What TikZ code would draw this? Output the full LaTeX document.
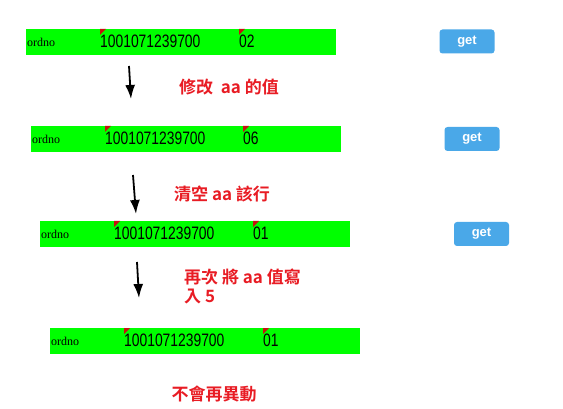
\documentclass[tikz,border=0pt]{standalone}
\usepackage{fontspec}
\setmainfont{Liberation Sans}
\newfontfamily\serfont{Liberation Serif}
\newfontfamily\cjkfont{Noto Sans CJK TC}[BoldFont={Noto Sans CJK TC Bold}]
\usetikzlibrary{arrows.meta}
\definecolor{bargreen}{RGB}{0,255,0}
\definecolor{btnblue}{RGB}{74,168,232}
\definecolor{notered}{RGB}{232,28,36}
\definecolor{cornerred}{RGB}{200,16,16}

\begin{document}
\begin{tikzpicture}[x=1pt, y=-1pt,
  bar/.style={fill=bargreen, minimum width=310pt, minimum height=26pt, inner sep=0pt},
  lbl/.style={anchor=base west, inner sep=0pt, font=\serfont\fontsize{12}{12}\selectfont},
  num/.style={anchor=west, inner sep=0pt, font=\fontsize{18}{18}\selectfont},
  corner/.style={fill=cornerred},
  btn/.style={fill=btnblue, rounded corners=3pt, minimum width=55pt, minimum height=24pt,
    text=white, font=\bfseries\fontsize{13}{13}\selectfont},
  note/.style={text=notered, inner sep=0pt, font=\cjkfont\bfseries\fontsize{17}{19}\selectfont},
  down/.style={line width=1.8pt, -{Latex[length=14pt,width=10pt]}}]
  \useasboundingbox (0,0) rectangle (563,409);
  % row 1: value 02
  \node[bar] (row1) at (181,42) {};
  \node[lbl] (ord1) at (27,46.5) {ordno};
  \fill[corner] (100,29) -- ++(6,0) -- ++(-6,6) -- cycle;
  \fill[corner] (239,29) -- ++(6,0) -- ++(-6,6) -- cycle;
  \node[num] (no1) at (100,41.5) {\scalebox{0.77}[1]{1001071239700}};
  \node[num] (val1) at (239,41.5) {\scalebox{0.77}[1]{02}};
  \node[btn] (get1) at (467,41.5) {get};
  % step 1
  \coordinate (s1) at (129,66);
  \coordinate (e1) at (131,99);
  \draw[down] (s1) -- (e1);
  \node[note, anchor=west] (txt1) at (179,87) {修改~~aa 的值};
  % row 2: value 06
  \node[bar] (row2) at (186,139) {};
  \node[lbl] (ord2) at (32,143.5) {ordno};
  \fill[corner] (105,126) -- ++(6,0) -- ++(-6,6) -- cycle;
  \fill[corner] (243,126) -- ++(6,0) -- ++(-6,6) -- cycle;
  \node[num] (no2) at (105,138.5) {\scalebox{0.77}[1]{1001071239700}};
  \node[num] (val2) at (243,138.5) {\scalebox{0.77}[1]{06}};
  \node[btn] (get2) at (472,139) {get};
  % step 2
  \coordinate (s2) at (133,175);
  \coordinate (e2) at (136,214);
  \draw[down] (s2) -- (e2);
  \node[note, anchor=west] (txt2) at (174,194) {清空 aa 該行};
  % row 3: value 01
  \node[bar] (row3) at (195,234) {};
  \node[lbl] (ord3) at (41,238.5) {ordno};
  \fill[corner] (114,221) -- ++(6,0) -- ++(-6,6) -- cycle;
  \fill[corner] (253,221) -- ++(6,0) -- ++(-6,6) -- cycle;
  \node[num] (no3) at (114,233.5) {\scalebox{0.77}[1]{1001071239700}};
  \node[num] (val3) at (253,233.5) {\scalebox{0.77}[1]{01}};
  \node[btn] (get3) at (481.5,234) {get};
  % step 3
  \coordinate (s3) at (137,262);
  \coordinate (e3) at (139,298);
  \draw[down] (s3) -- (e3);
  \node[note, anchor=north west, align=left] (txt3) at (184,269) {再次 將 aa 值寫\\入 5};
  % row 4: value stays 01
  \node[bar] (row4) at (205,341) {};
  \node[lbl] (ord4) at (51,345.5) {ordno};
  \fill[corner] (124,328) -- ++(6,0) -- ++(-6,6) -- cycle;
  \fill[corner] (263,328) -- ++(6,0) -- ++(-6,6) -- cycle;
  \node[num] (no4) at (124,340.5) {\scalebox{0.77}[1]{1001071239700}};
  \node[num] (val4) at (263,340.5) {\scalebox{0.77}[1]{01}};
  \node[note] (txt4) at (214,394) {不會再異動};
\end{tikzpicture}
\end{document}
